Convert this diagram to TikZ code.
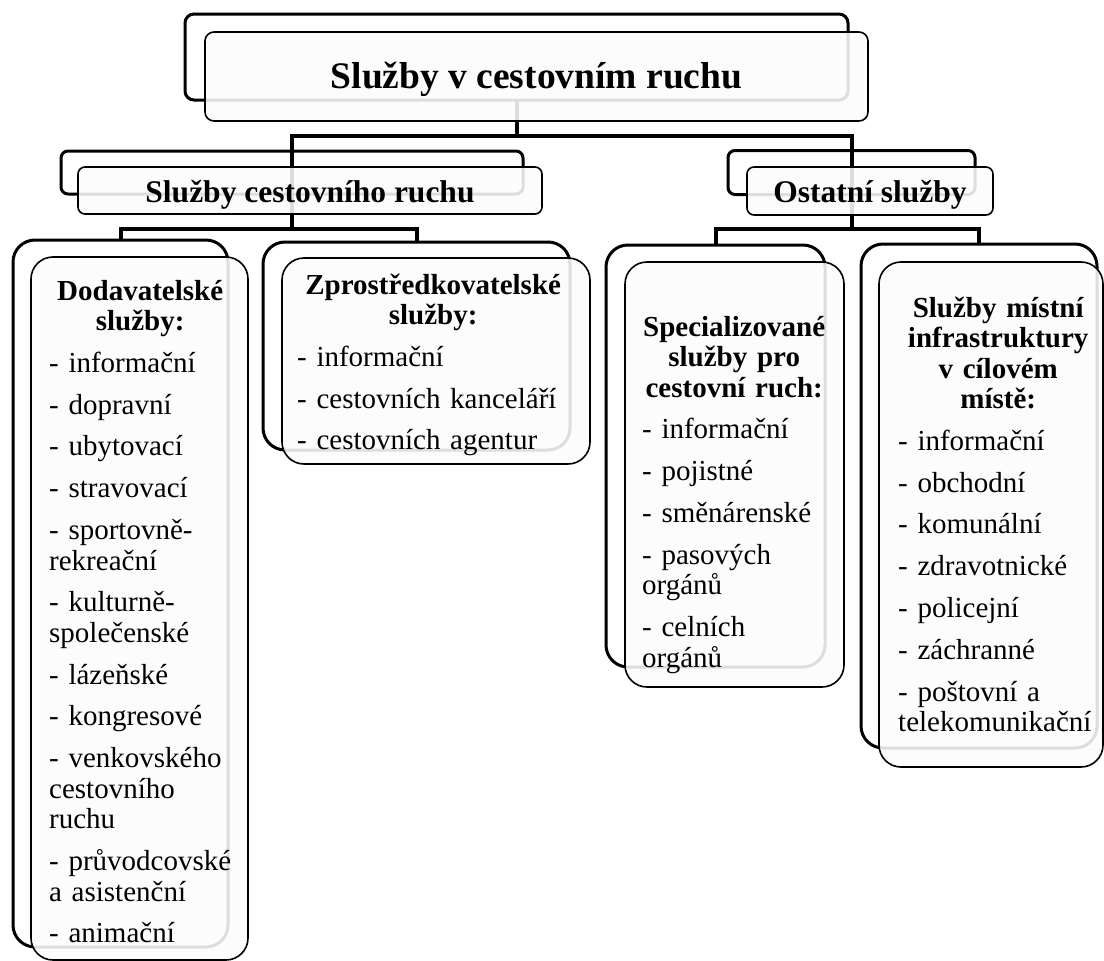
\documentclass[tikz,border=0pt]{standalone}
\usepackage{fontspec}
\setmainfont{Liberation Serif}
\begin{document}
\begin{tikzpicture}[x=1pt,y=-1pt,
  back/.style={draw=black, line width=3pt, rounded corners=#1, inner sep=0pt, outer sep=0pt, shape=rectangle},
  back/.default=22pt,
  front/.style={draw=black, line width=1.6pt, fill=white!99!black, fill opacity=0.88, rounded corners=#1, inner sep=0pt, outer sep=0pt, shape=rectangle},
  front/.default=22pt,
  conn/.style={line width=4pt, draw=black},
  ttl/.style={anchor=base, inner sep=0pt, font=\fontsize{37.5}{40}\selectfont\bfseries},
  sub/.style={anchor=base, inner sep=0pt, font=\fontsize{31.5}{34}\selectfont\bfseries},
  body/.style={anchor=base west, inner sep=0pt, text width=#1, font=\fontsize{29}{30.5}\selectfont}
]
\useasboundingbox (0,0) rectangle (1104,961);

% back frames
\node[back=9pt, minimum width=663pt, minimum height=86pt] (b0) at (516.5,57) {};
\node[back=7pt, minimum width=462pt, minimum height=43pt] (b1) at (292,172.5) {};
\node[back=7pt, minimum width=247pt, minimum height=44pt] (b2) at (851.5,172.5) {};
\node[back, minimum width=215pt, minimum height=707pt] (b3) at (120.5,593.5) {};
\node[back, minimum width=307pt, minimum height=208pt] (b4) at (416.5,346) {};
\node[back, minimum width=219pt, minimum height=422pt] (b5) at (715.5,456) {};
\node[back, minimum width=236pt, minimum height=504pt] (b6) at (979,496) {};

% connectors
\coordinate (bus1) at (516.5,136);
\coordinate (busL) at (292,229);
\coordinate (busR) at (851.5,229);
\draw[conn] (b0.south) -- (bus1);
\draw[conn] (b1.north) |- (bus1) -| (b2.north);
\draw[conn] (b1.north) -- (busL);
\draw[conn] (b2.north) -- (busR);
\draw[conn] (b3.north) |- (busL) -| (b4.north);
\draw[conn] (b5.north) |- (busR) -| (b6.north);

% front boxes
\node[front=9pt, minimum width=663pt, minimum height=89pt] (f0) at (536.5,76.5) {};
\node[front=7pt, minimum width=464pt, minimum height=47pt] (f1) at (310,190.5) {};
\node[front=7pt, minimum width=246pt, minimum height=48pt] (f2) at (870,191) {};
\node[front, minimum width=217pt, minimum height=703pt] (f3) at (139.5,608.5) {};
\node[front, minimum width=308pt, minimum height=206pt] (f4) at (436,361) {};
\node[front, minimum width=219pt, minimum height=425pt] (f5) at (734.5,474.5) {};
\node[front, minimum width=224pt, minimum height=505pt] (f6) at (991,514.5) {};

% texts
\node[ttl] (t0) at (536.5,88) {Služby v cestovním ruchu};
\node[sub] (t1) at (310,202) {Služby cestovního ruchu};
\node[sub] (t2) at (870,202) {Ostatní služby};

\node[body=196pt] (t3) at (49,300) {\setlength{\parskip}{11.3pt}\raggedright\hyphenpenalty=10000
{\centering\advance\rightskip 14pt\bfseries Dodavatelské\\ služby:\par}
- informační\par
- dopravní\par
- ubytovací\par
- stravovací\par
- sportovně-\\rekreační\par
- kulturně-\\společenské\par
- lázeňské\par
- kongresové\par
- venkovského\\cestovního\\ruchu\par
- průvodcovské\\a asistenční\par
- animační};

\node[body=276pt] (t4) at (297,294) {\setlength{\parskip}{11.3pt}\raggedright\hyphenpenalty=10000
{\centering\advance\rightskip 4pt\bfseries Zprostředkovatelské\\ služby:\par}
- informační\par
- cestovních kanceláří\par
- cestovních agentur};

\node[body=190pt] (t5) at (642,336) {\setlength{\parskip}{11.3pt}\raggedright\hyphenpenalty=10000
{\centering\advance\rightskip 6pt\bfseries Specializované\\ služby pro\\ cestovní ruch:\par}
- informační\par
- pojistné\par
- směnárenské\par
- pasových\\orgánů\par
- celních\\orgánů};

\node[body=204pt] (t6) at (898,317) {\setlength{\parskip}{11.3pt}\raggedright\hyphenpenalty=10000
{\centering\advance\rightskip 4pt\bfseries Služby místní\\ infrastruktury\\ v cílovém\\ místě:\par}
- informační\par
- obchodní\par
- komunální\par
- zdravotnické\par
- policejní\par
- záchranné\par
- poštovní a\\telekomunikační};
\end{tikzpicture}
\end{document}
